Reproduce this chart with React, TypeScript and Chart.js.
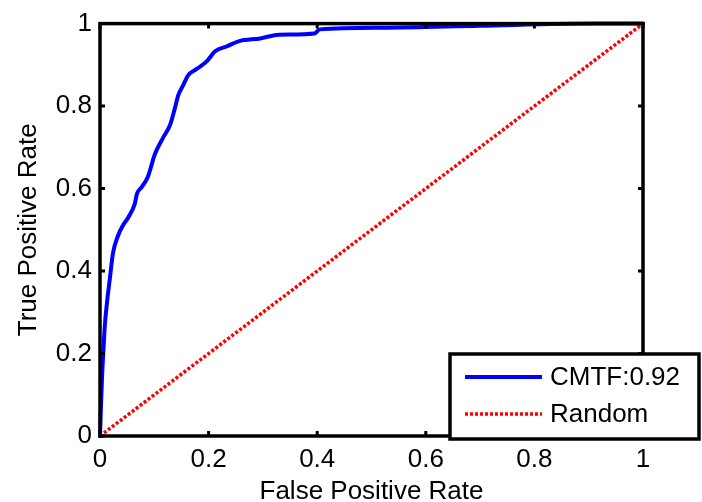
import React, { useEffect, useRef } from 'react';
import { Chart, registerables } from 'chart.js';

Chart.register(...registerables);

const tickValues = [0, 0.2, 0.4, 0.6, 0.8, 1];
const tickLabels = ['0', '0.2', '0.4', '0.6', '0.8', '1'];

const cmtfFpr = [0, 0.002, 0.004, 0.006, 0.009, 0.013, 0.018, 0.024, 0.033, 0.042, 0.052, 0.064, 0.068, 0.077, 0.088, 0.101, 0.116, 0.129, 0.138, 0.144, 0.153, 0.162, 0.178, 0.197, 0.212, 0.234, 0.255, 0.295, 0.33, 0.395, 0.405, 0.52, 0.7, 0.91, 1.0];
const cmtfTpr = [0, 0.08, 0.15, 0.2, 0.27, 0.325, 0.38, 0.444, 0.485, 0.51, 0.53, 0.563, 0.587, 0.604, 0.628, 0.683, 0.723, 0.754, 0.795, 0.826, 0.85, 0.874, 0.89, 0.909, 0.933, 0.945, 0.957, 0.964, 0.973, 0.976, 0.986, 0.99, 0.995, 1.0, 1.0];

const randomFpr = [0, 1];
const randomTpr = [0, 1];

const seriesLabels = ['CMTF:0.92', 'Random'];
const xTitle = 'False Positive Rate';
const yTitle = 'True Positive Rate';

const FONT = '"Liberation Sans", Arial, sans-serif';

const framePlugin = {
  id: 'frame',
  afterDatasetsDraw(chart: any) {
    const { ctx, chartArea: a, scales } = chart;
    const xs = scales.x;
    const ys = scales.y;
    ctx.save();
    ctx.strokeStyle = '#000';
    ctx.lineWidth = 3.5;
    ctx.strokeRect(a.left, a.top, a.right - a.left, a.bottom - a.top);
    ctx.lineWidth = 3;
    const L = 5;
    ctx.beginPath();
    tickValues.forEach((v) => {
      const px = xs.getPixelForValue(v);
      ctx.moveTo(px, a.bottom);
      ctx.lineTo(px, a.bottom - L);
      ctx.moveTo(px, a.top);
      ctx.lineTo(px, a.top + L);
      const py = ys.getPixelForValue(v);
      ctx.moveTo(a.left, py);
      ctx.lineTo(a.left + L, py);
      ctx.moveTo(a.right, py);
      ctx.lineTo(a.right - L, py);
    });
    ctx.stroke();
    ctx.restore();
  },
};

const legendPlugin = {
  id: 'boxLegend',
  afterDraw(chart: any) {
    const { ctx } = chart;
    const box = { left: 450, top: 354, right: 699, bottom: 439 };
    ctx.save();
    ctx.fillStyle = '#fff';
    ctx.fillRect(box.left, box.top, box.right - box.left, box.bottom - box.top);
    ctx.strokeStyle = '#000';
    ctx.lineWidth = 3.5;
    ctx.strokeRect(box.left, box.top, box.right - box.left, box.bottom - box.top);
    const rows = [377, 414];
    chart.data.datasets.forEach((ds: any, i: number) => {
      const y = rows[i];
      ctx.beginPath();
      ctx.strokeStyle = ds.borderColor;
      ctx.lineWidth = ds.borderWidth;
      ctx.setLineDash(ds.borderDash || []);
      ctx.moveTo(465, y);
      ctx.lineTo(542, y);
      ctx.stroke();
      ctx.setLineDash([]);
      ctx.fillStyle = '#000';
      ctx.font = `26px ${FONT}`;
      ctx.textAlign = 'left';
      ctx.textBaseline = 'middle';
      ctx.fillText(ds.label, 550, y + 1);
    });
    ctx.restore();
  },
};

export default function App() {
  const ref = useRef<HTMLCanvasElement>(null);
  useEffect(() => {
    document.body.style.margin = '0';
    const canvas = ref.current!;
    const chart = new Chart(canvas, {
      type: 'line',
      data: {
        datasets: [
          {
            label: seriesLabels[0],
            data: cmtfFpr.map((x, i) => ({ x, y: cmtfTpr[i] })),
            borderColor: '#0000ff',
            borderWidth: 4,
            pointRadius: 0,
            cubicInterpolationMode: 'monotone',
            borderJoinStyle: 'round',
            borderCapStyle: 'round',
            fill: false,
            clip: 6,
          },
          {
            label: seriesLabels[1],
            data: randomFpr.map((x, i) => ({ x, y: randomTpr[i] })),
            borderColor: '#ff0000',
            borderWidth: 3.5,
            borderDash: [3, 2],
            pointRadius: 0,
            tension: 0,
            fill: false,
            clip: 6,
          },
        ],
      } as any,
      options: {
        animation: false,
        responsive: false,
        devicePixelRatio: 1,
        layout: { padding: { left: 0, top: 17, right: 59, bottom: 0 } },
        plugins: { legend: { display: false }, tooltip: { enabled: false } },
        scales: {
          x: {
            type: 'linear',
            min: 0,
            max: 1,
            grid: { display: false, drawTicks: false },
            border: { display: false },
            afterBuildTicks: (s: any) => {
              s.ticks = tickValues.map((v) => ({ value: v }));
            },
            afterFit: (s: any) => {
              s.height = 66;
            },
            ticks: {
              color: '#000',
              font: { size: 26, family: FONT },
              padding: 8,
              maxRotation: 0,
              callback: (_v: any, i: number) => tickLabels[i],
            },
            title: {
              display: true,
              text: xTitle,
              color: '#000',
              font: { size: 26, family: FONT, lineHeight: 1 },
              padding: { top: 0, bottom: -3 },
            },
          },
          y: {
            type: 'linear',
            min: 0,
            max: 1,
            grid: { display: false, drawTicks: false },
            border: { display: false },
            afterBuildTicks: (s: any) => {
              s.ticks = tickValues.map((v) => ({ value: v }));
            },
            afterFit: (s: any) => {
              s.width = 100;
            },
            ticks: {
              color: '#000',
              font: { size: 26, family: FONT },
              padding: 8,
              callback: (_v: any, i: number) => tickLabels[i],
            },
            title: {
              display: true,
              text: yTitle,
              color: '#000',
              font: { size: 26, family: FONT, lineHeight: 1 },
              padding: { top: 16, bottom: 0 },
            },
          },
        },
      } as any,
      plugins: [framePlugin, legendPlugin],
    });
    return () => chart.destroy();
  }, []);
  return (
    <div style={{ position: 'fixed', left: 0, top: 0, width: 702, height: 502, background: '#fff' }}>
      <canvas ref={ref} width={702} height={502} style={{ width: 702, height: 502, display: 'block' }} />
    </div>
  );
}
